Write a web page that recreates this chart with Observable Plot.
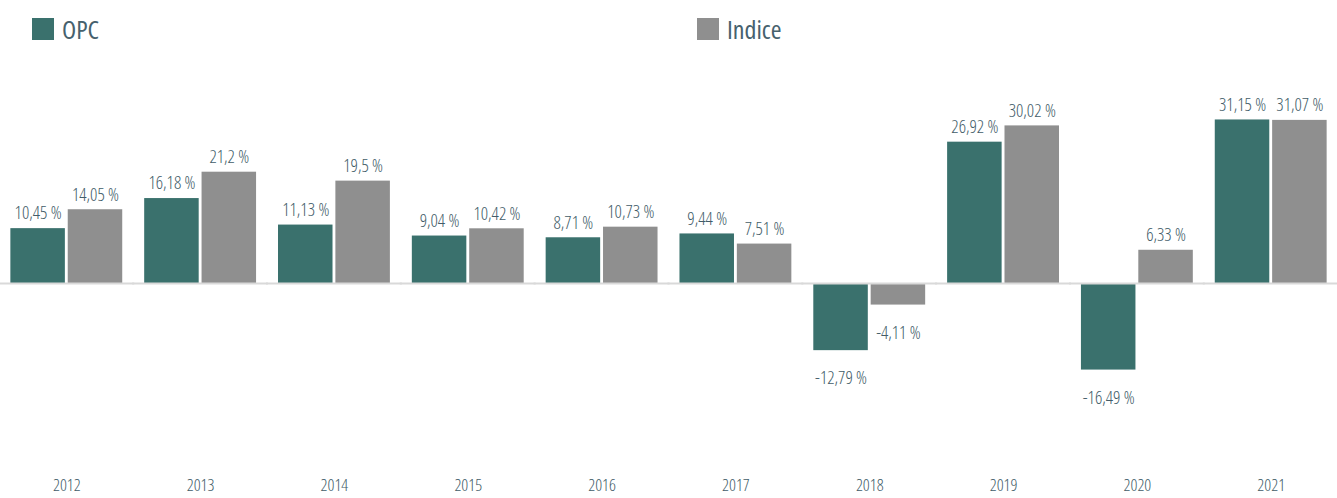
<!DOCTYPE html>
<html>
<head>
<meta charset="utf-8">
<script src="https://cdn.jsdelivr.net/npm/d3@7"></script>
<script src="https://cdn.jsdelivr.net/npm/@observablehq/plot@0.6"></script>
<style>
  html, body { margin: 0; padding: 0; background: #ffffff; }
  body { width: 1337px; height: 498px; overflow: hidden;
    font-family: "Open Sans", sans-serif;
    font-stretch: 80%; }
  #legend { position: relative; height: 50px; width: 1337px; }
  .item { position: absolute; top: 11px; display: flex; align-items: center; font-size: 26px; font-weight: 400; color: #46616d; }
  .sw { width: 22px; height: 22px; margin-right: 8px; }
  #chart svg { display: block; font-stretch: 80%; }
</style>
</head>
<body>
<div id="legend"></div>
<div id="chart"></div>
<script>
const years = ["2012","2013","2014","2015","2016","2017","2018","2019","2020","2021"];
const opc = [10.45, 16.18, 11.13, 9.04, 8.71, 9.44, -12.79, 26.92, -16.49, 31.15];
const indice = [14.05, 21.2, 19.5, 10.42, 10.73, 7.51, -4.11, 30.02, 6.33, 31.07];
const series = ["OPC", "Indice"];
const colors = ["#3a716d", "#8f8f8f"];

const data = years.flatMap((y, i) => [
  {year: y, series: "OPC", value: opc[i]},
  {year: y, series: "Indice", value: indice[i]}
]);
const fmt = d => String(d.value).replace(".", ",") + " %";
const textColor = "#425c68";

// Legend
const legend = document.getElementById("legend");
const legendLeft = [32, 697];
series.forEach((s, i) => {
  const it = document.createElement("div");
  it.className = "item";
  it.style.left = legendLeft[i] + "px";
  it.innerHTML = `<span class="sw" style="background:${colors[i]}"></span><span>${s}</span>`;
  legend.appendChild(it);
});

const chart = Plot.plot({
  width: 1337,
  height: 448,
  marginLeft: 3,
  marginRight: 3,
  marginTop: 23,
  marginBottom: 57.5,
  style: {
    fontFamily: '"Open Sans", sans-serif',
    fontSize: "18px",
    fontWeight: 350,
    color: textColor,
    background: "#ffffff"
  },
  fx: {domain: years, paddingInner: 0.164, paddingOuter: 0.055, round: false, label: null},
  x: {domain: series, axis: null, paddingInner: 0.05, paddingOuter: 0, round: false},
  y: {domain: [-30, 40], axis: null},
  color: {domain: series, range: colors},
  marks: [
    Plot.barY(data, {fx: "year", x: "series", y: "value", fill: "series"}),
    Plot.ruleY([0], {stroke: "#d9d9d9", strokeWidth: 2, insetLeft: -12, insetRight: -12}),
    Plot.text(data.filter(d => d.value >= 0), {fx: "year", x: "series", y: "value", text: fmt, dy: -15, fill: textColor, fontSize: 18, fontWeight: 350}),
    Plot.text(data.filter(d => d.value < 0), {fx: "year", x: "series", y: "value", text: fmt, dy: 28, fill: textColor, fontSize: 18, fontWeight: 350}),
    Plot.axisFx({anchor: "bottom", tickSize: 0, tickPadding: 38, label: null, fill: textColor, fontSize: 17, fontWeight: 350})
  ]
});
document.getElementById("chart").appendChild(chart);
</script>
</body>
</html>
